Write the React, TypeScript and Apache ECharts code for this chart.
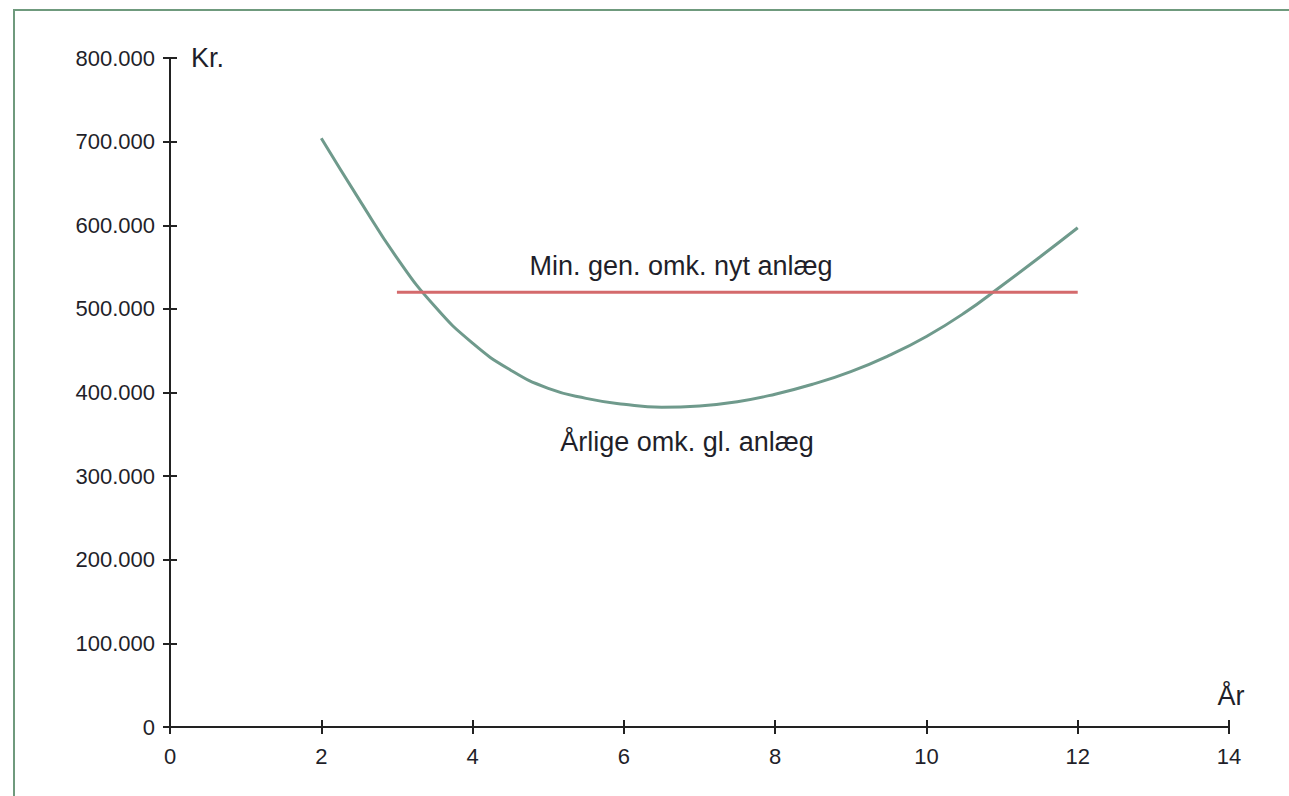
import React, { useEffect, useRef } from "react";
import * as echarts from "echarts";

const years = [2, 2.5, 3, 3.5, 4, 4.5, 5, 5.5, 6, 6.5, 7, 7.5, 8, 8.5, 9, 9.5, 10, 10.5, 11, 11.5, 12];
const annualCostOld = [
  704000, 631000, 561000, 503000, 459000, 427000, 405000, 393000, 386000, 382500, 384000,
  389000, 398000, 410000, 425000, 444000, 467000, 495000, 528000, 562000, 597000,
];
const newPlantYears = [3, 12];
const newPlantCost = [520000, 520000];

const xTicks = { min: 0, max: 14, interval: 2 };
const yTicks = { min: 0, max: 800000, interval: 100000 };

const labelNew = "Min. gen. omk. nyt anlæg";
const labelOld = "Årlige omk. gl. anlæg";
const yUnit = "Kr.";
const xUnit = "År";

const FONT = '"Liberation Sans", Arial, Helvetica, sans-serif';
const TEXT = "#1f1f2a";
const AXIS = "#222222";

function fmt(v: number): string {
  return String(Math.round(v)).replace(/\B(?=(\d{3})+(?!\d))/g, ".");
}

export default function App() {
  const ref = useRef<HTMLDivElement>(null);
  useEffect(() => {
    if (!ref.current) return;
    const chart = echarts.init(ref.current, undefined, { renderer: "svg" });
    const axisCommon = {
      type: "value" as const,
      splitLine: { show: false },
    };
    chart.setOption({
      animation: false,
      backgroundColor: "#ffffff",
      textStyle: { fontFamily: FONT },
      grid: { left: 170, right: 60, top: 58, bottom: 69 },
      xAxis: [
        {
          ...axisCommon,
          ...xTicks,
          axisLine: { show: true, lineStyle: { color: AXIS, width: 2 } },
          axisTick: { show: true, length: 7, lineStyle: { color: AXIS, width: 2 } },
          axisLabel: { show: true, margin: 18, color: TEXT, fontSize: 22, fontFamily: FONT },
        },
        {
          ...axisCommon,
          ...xTicks,
          position: "bottom",
          axisLine: { show: false },
          axisTick: { show: true, inside: true, length: 7, lineStyle: { color: AXIS, width: 2 } },
          axisLabel: { show: false },
        },
      ],
      yAxis: [
        {
          ...axisCommon,
          ...yTicks,
          axisLine: { show: true, lineStyle: { color: AXIS, width: 2 } },
          axisTick: { show: true, length: 7, lineStyle: { color: AXIS, width: 2 } },
          axisLabel: {
            show: true,
            margin: 15,
            color: TEXT,
            fontSize: 22,
            fontFamily: FONT,
            formatter: (v: number) => fmt(v),
          },
        },
        {
          ...axisCommon,
          ...yTicks,
          position: "left",
          axisLine: { show: false },
          axisTick: { show: true, inside: true, length: 7, lineStyle: { color: AXIS, width: 2 } },
          axisLabel: { show: false },
        },
      ],
      series: [
        {
          name: labelOld,
          type: "line",
          smooth: true,
          showSymbol: false,
          symbol: "none",
          lineStyle: { color: "#6f9a8c", width: 3 },
          data: years.map((x, i) => [x, annualCostOld[i]]),
        },
        {
          name: labelNew,
          type: "line",
          showSymbol: false,
          symbol: "none",
          lineStyle: { color: "#d46a6c", width: 3 },
          data: newPlantYears.map((x, i) => [x, newPlantCost[i]]),
        },
      ],
      graphic: [
        {
          type: "rect",
          shape: { x: 14, y: 10, width: 1400, height: 900 },
          style: { fill: "none", stroke: "#6f9a7d", lineWidth: 2 },
          silent: true,
        },
        {
          type: "text",
          x: 191,
          y: 58,
          style: { text: yUnit, fill: TEXT, font: `27px ${FONT}`, textVerticalAlign: "middle", textAlign: "left" },
        },
        {
          type: "text",
          x: 1231,
          y: 696,
          style: { text: xUnit, fill: TEXT, font: `27px ${FONT}`, textVerticalAlign: "middle", textAlign: "center" },
        },
        {
          type: "text",
          x: 681,
          y: 266,
          style: { text: labelNew, fill: TEXT, font: `27px ${FONT}`, textVerticalAlign: "middle", textAlign: "center" },
        },
        {
          type: "text",
          x: 687,
          y: 442,
          style: { text: labelOld, fill: TEXT, font: `27px ${FONT}`, textVerticalAlign: "middle", textAlign: "center" },
        },
      ],
    });
    return () => chart.dispose();
  }, []);
  return (
    <div
      ref={ref}
      style={{ position: "fixed", left: 0, top: 0, width: 1289, height: 796, background: "#fff" }}
    />
  );
}
